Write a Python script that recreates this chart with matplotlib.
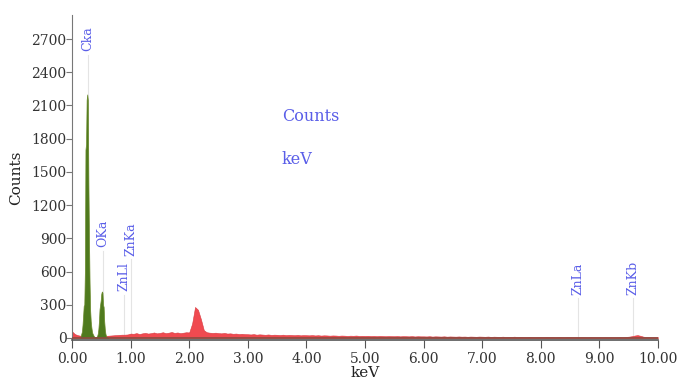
import numpy as np
import matplotlib.pyplot as plt

# channel energies (keV) and counts
red_kev = np.round(np.arange(0, 10.001, 0.05), 3)
red_counts = [
    60, 35, 25, 20, 18, 15, 12, 10, 10, 12, 14, 18, 20, 22, 24, 26, 28, 30, 30, 32,
    40, 38, 44, 36, 42, 46, 40, 44, 50, 42, 46, 52, 44, 48, 54, 46, 50, 44, 48, 52,
    50, 130, 280, 255, 170, 70, 52, 48, 46, 48, 44, 42, 46, 40, 42, 38, 40, 36, 38, 35,
    34, 32, 35, 30, 33, 31, 29, 32, 28, 30, 29, 27, 30, 26, 28, 27, 25, 28, 24, 26,
    25, 24, 26, 23, 25, 22, 24, 23, 21, 23, 22, 20, 22, 21, 19, 21, 20, 22, 19, 20,
    19, 20, 18, 19, 17, 19, 18, 16, 18, 17, 16, 18, 15, 17, 16, 15, 17, 14, 16, 15,
    15, 14, 16, 13, 15, 14, 13, 15, 12, 14, 13, 12, 14, 12, 13, 11, 13, 12, 11, 13,
    12, 11, 13, 10, 12, 11, 10, 12, 10, 11, 10, 12, 9, 11, 10, 9, 11, 10, 9, 10,
    10, 9, 11, 9, 10, 8, 10, 9, 8, 10, 9, 8, 9, 8, 9, 8, 7, 9, 8, 8,
    8, 7, 8, 7, 8, 7, 8, 9, 8, 10, 12, 16, 22, 26, 20, 12, 9, 8, 7, 8,
    7,
]

green_kev = np.round(np.arange(0.14, 0.621, 0.01), 3)
green_counts = [
    0, 20, 40, 60, 120, 200, 290, 300, 600, 1700,
    1750, 2150, 2200, 2150, 1400, 900, 500, 250, 150, 100,
    60, 40, 30, 20, 10, 5, 5, 5, 10, 20,
    40, 80, 150, 260, 300, 340, 400, 420, 410, 300,
    280, 150, 80, 40, 20, 10, 5, 0, 0,
]

peak_names = ["Cka", "OKa", "ZnLl", "ZnKa", "ZnLa", "ZnKb"]
peak_kev = [0.277, 0.525, 0.884, 1.012, 8.63, 9.57]
peak_label_y = [2590, 820, 420, 740, 390, 390]

serif = "DejaVu Serif"
blue = "#5a5ee8"

fig = plt.figure(figsize=(6.83, 3.83), dpi=100)
ax = fig.add_axes([0.1054, 0.1123, 0.858, 0.8485])

# faint marker lines under the element labels
for k, ly in zip(peak_kev, peak_label_y):
    ax.plot([k, k], [0, ly - 30], color="#e4e4e4", lw=0.8, zorder=0)

ax.fill_between(red_kev, 0, red_counts, color="#f04a50", lw=0.4,
                edgecolor="#d83a40", zorder=2)
ax.fill_between(green_kev, 0, green_counts, color="#4f7a1e", lw=0.5,
                edgecolor="#6a8a2a", zorder=3)
ax.axhline(0, color="#8a4a40", lw=1.2, zorder=4)

for name, k, ly in zip(peak_names, peak_kev, peak_label_y):
    ax.text(k, ly, name, rotation=90, ha="center", va="bottom",
            color=blue, fontsize=9, family=serif, zorder=5)

ax.text(3.58, 1996, "Counts", color=blue, fontsize=11.5, family=serif,
        va="center")
ax.text(3.58, 1608, "keV", color=blue, fontsize=11.5, family=serif,
        va="center")

ax.set_xlim(0, 10)
ax.set_ylim(-18, 2917)
ax.set_xticks(np.arange(0, 10.01, 1))
ax.set_xticklabels([f"{v:.2f}" for v in np.arange(0, 10.01, 1)])
ax.set_yticks(np.arange(0, 2701, 300))

for s in ["top", "right"]:
    ax.spines[s].set_visible(False)
ax.spines["left"].set_color("#777777")
ax.spines["bottom"].set_color("#555555")
ax.spines["bottom"].set_linewidth(1.2)

ax.tick_params(axis="y", length=4, width=0.8, color="#777777", pad=0,
               labelsize=10, labelcolor="#333333")
ax.tick_params(axis="x", length=6, width=0.8, color="#555555", pad=3,
               labelsize=10, labelcolor="#333333")
for lab in ax.get_xticklabels() + ax.get_yticklabels():
    lab.set_family(serif)

ax.set_xlabel("keV", family=serif, fontsize=11, color="#222222", labelpad=0)
ax.set_ylabel("Counts", family=serif, fontsize=11, color="#222222",
              labelpad=6)

fig.savefig("out.png", dpi=100)
